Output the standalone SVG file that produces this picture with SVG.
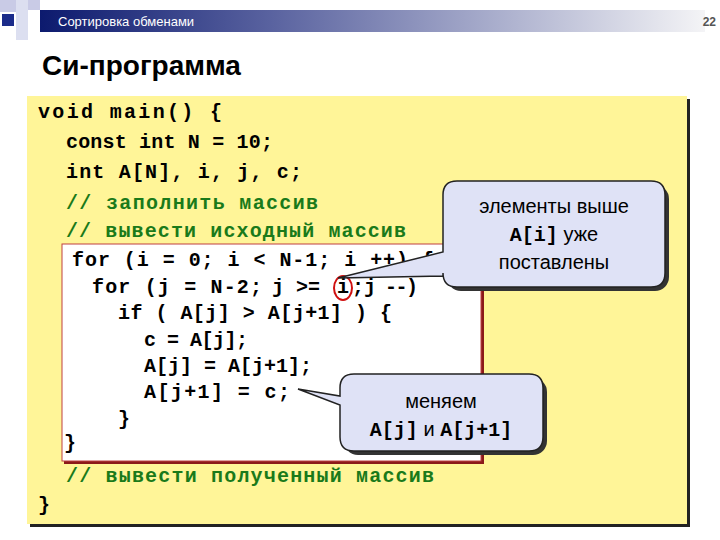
<svg xmlns="http://www.w3.org/2000/svg" width="720" height="540" viewBox="0 0 720 540">
<defs>
<linearGradient id="hg" x1="0" x2="1" y1="0" y2="0"><stop offset="0" stop-color="#0c1a6e"/><stop offset="0.35" stop-color="#5a63a0"/><stop offset="1" stop-color="#f4f4f6"/></linearGradient>
<style>
.c{font-family:"Liberation Mono",monospace;font-weight:bold;font-size:20px;fill:#000}
.g{fill:#1a7a1a}
.t{font-family:"Liberation Sans",Arial,sans-serif;font-size:20px;fill:#000;text-anchor:middle}
.cb{fill:#dfe2f6;stroke:#222;stroke-width:1.5}
</style>
</defs>
<rect width="720" height="540" fill="#fff"/>
<g id="header">
<rect x="0" y="0" width="16" height="12" fill="#c9cbe6"/><rect x="16" y="0" width="12" height="40" fill="#dcdff0"/>
<rect x="2" y="14" width="12" height="12" fill="#1b2c8a"/><rect x="28" y="0" width="12" height="10" fill="#c9cbe6"/>
<rect x="40" y="10" width="665" height="22" fill="url(#hg)"/>
<text x="58" y="26" font-family="Liberation Sans,Arial,sans-serif" font-size="13" fill="#fff">Сортировка обменами</text>
<text x="716" y="26" font-family="Liberation Sans,Arial,sans-serif" font-size="12" font-weight="bold" fill="#555" text-anchor="end">22</text>
<text x="42" y="75" font-family="Liberation Sans,Arial,sans-serif" font-size="28" font-weight="bold" fill="#000">Си-программа</text>
</g>
<g id="codebox">
<rect x="30" y="99" width="660" height="428" fill="#222"/>
<rect x="27" y="96" width="660" height="428" fill="#fff598"/>
<rect x="64" y="246" width="420" height="218" fill="#8b1a1a"/>
<rect x="62" y="244" width="419" height="217" fill="#fff" stroke="#c04040" stroke-width="1"/>
<text class="c" x="38" y="118" textLength="184">void main() {</text>
<text class="c" x="66" y="148" textLength="207">const int N = 10;</text>
<text class="c" x="66" y="178" textLength="236">int A[N], i, j, c;</text>
<text class="c g" x="66" y="209" textLength="252">// заполнить массив</text>
<text class="c g" x="66" y="237" textLength="340">// вывести исходный массив</text>
<text class="c" x="72" y="266" textLength="362">for (i = 0; i &lt; N-1; i ++) {</text>
<text class="c" y="293"><tspan x="92" textLength="170">for (j = N-2;</tspan><tspan x="272">j &gt;=</tspan><tspan x="337">i</tspan><tspan x="352">;</tspan><tspan x="364" textLength="54">j --)</tspan></text>
<text class="c" x="118" y="319" textLength="274">if ( A[j] &gt; A[j+1] ) {</text>
<text class="c" x="144" y="346" textLength="104">c = A[j];</text>
<text class="c" x="144" y="372" textLength="168">A[j] = A[j+1];</text>
<text class="c" x="144" y="398" textLength="146">A[j+1] = c;</text>
<text class="c" x="118" y="425">}</text>
<text class="c" x="64" y="449">}</text>
<text class="c g" x="66" y="482" textLength="368">// вывести полученный массив</text>
<text class="c" x="38" y="511">}</text>
<ellipse cx="343" cy="288" rx="9" ry="12" fill="none" stroke="#d01010" stroke-width="2"/>
</g>
<g id="callout1">
<rect x="447" y="185" width="222" height="106" rx="14" fill="#333"/>
<path d="M457 181 H651 Q665 181 665 195 V273 Q665 287 651 287 H457 Q443 287 443 273 V276 L338 278 L443 252 V195 Q443 181 457 181 Z" class="cb"/>
<text class="t" x="554" y="213">элементы выше</text>
<text class="t" x="554" y="241"><tspan font-family="Liberation Mono,monospace" font-weight="bold">A[i]</tspan> уже</text>
<text class="t" x="554" y="269">поставлены</text>
</g>
<g id="callout2">
<rect x="344" y="378" width="203" height="77" rx="14" fill="#333"/>
<path d="M354 374 H529 Q543 374 543 388 V437 Q543 451 529 451 H354 Q340 451 340 437 V405 L298 389 L340 396 V388 Q340 374 354 374 Z" class="cb"/>
<text class="t" x="441" y="408">меняем</text>
<text class="t" x="441" y="436"><tspan font-family="Liberation Mono,monospace" font-weight="bold">A[j]</tspan> и <tspan font-family="Liberation Mono,monospace" font-weight="bold">A[j+1]</tspan></text>
</g>
</svg>
